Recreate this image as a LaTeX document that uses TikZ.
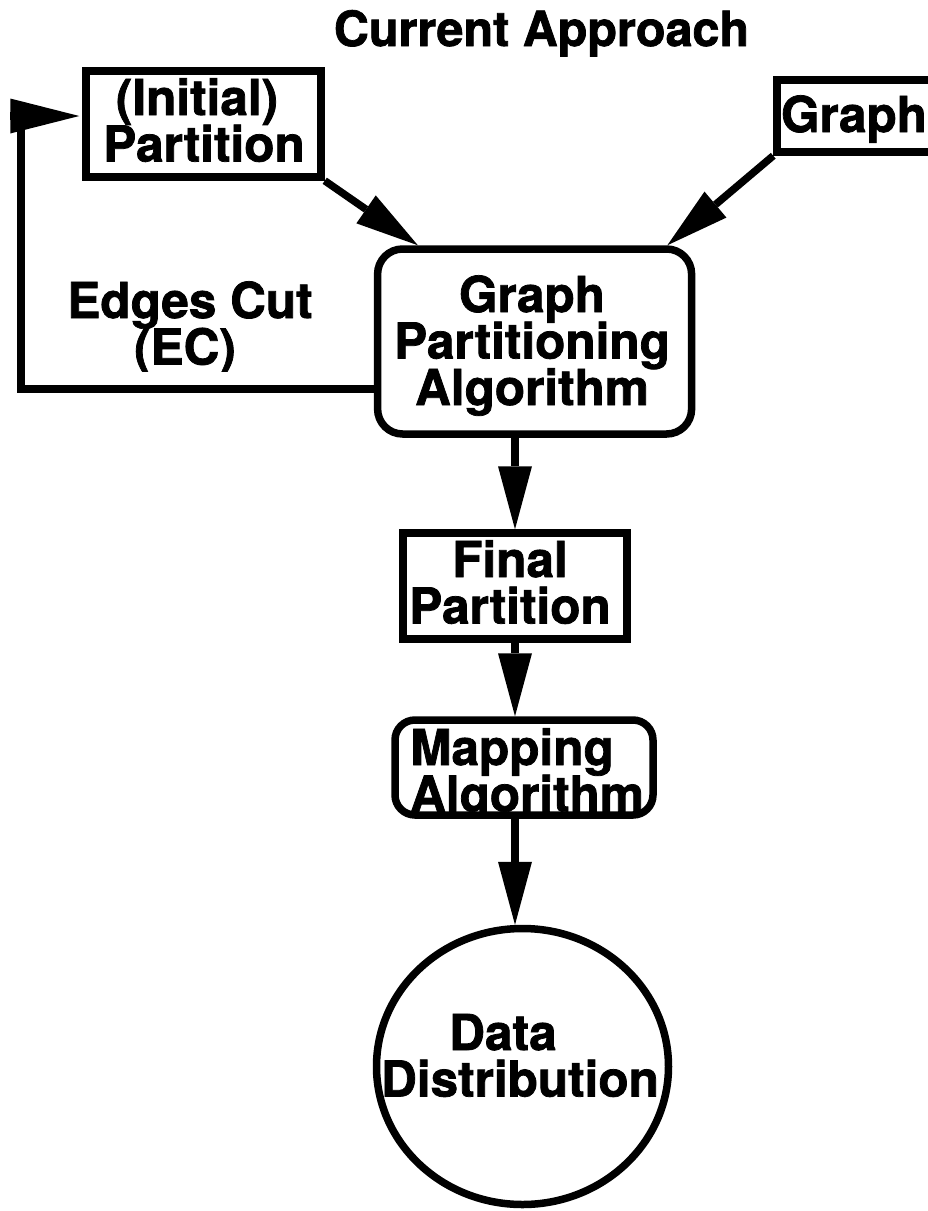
\documentclass[tikz,border=0pt]{standalone}
\usepackage{fontspec}
\setmainfont{TeX Gyre Heros}[BoldFeatures={FakeBold=1.5}]
\usetikzlibrary{arrows.meta,shapes.geometric,calc}

% label font: heavy sans, tight fixed line spacing
\newcommand\diagfont{\fontsize{49.5}{46.5}\selectfont\bfseries\lineskiplimit=-100pt\relax}
\newcommand\headfont{\fontsize{48.5}{46.5}\selectfont\bfseries}
% fixes the height of the first text line
\newcommand\topstrut{\rule{0pt}{40pt}}

\begin{document}
\begin{tikzpicture}[x=1pt,y=-1pt,
  box/.style={draw, line width=7.5pt, inner sep=0pt, rectangle},
  roundbox/.style={box, rounded corners=#1},
  txt/.style={inner sep=0pt, outer sep=0pt, align=center, font=\diagfont},
  wire/.style={line width=7.5pt, -{Triangle[length=63pt,width=34pt,line width=0pt]}}
]
\path[use as bounding box, clip] (0,0) rectangle (928,1211);

% ---- boxes ----
\node[box, minimum width=235pt, minimum height=106pt] (init) at (203.5,124) {};
\node[box, minimum width=183pt, minimum height=72pt] (graph) at (868.5,116) {};
\node[roundbox=25pt, minimum width=314pt, minimum height=185pt] (gpa) at (534.6,341.5) {};
\node[box, minimum width=224pt, minimum height=106pt] (final) at (515,586) {};
\node[roundbox=20pt, minimum width=258pt, minimum height=95pt] (map) at (524,767.5) {};
\node[box, ellipse, minimum width=292pt, minimum height=276pt] (data) at (522.5,1066.5) {};

% ---- texts ----
\node[inner sep=0pt, anchor=base, font=\headfont] (title) at (541.5,46) {Current Approach};
\node[txt, anchor=north] (initlbl) at (204,75) {\topstrut(Initial)\rule{14pt}{0pt}\\Partition};
\node[txt, anchor=base west] (graphlbl) at (781,132) {Graph};
\node[txt, anchor=north] (gpalbl) at (532,272) {\topstrut Graph\\Partitioning\\Algorithm};
\begin{scope}
  \clip (0,0) rectangle (400,371);
  \node[txt, anchor=north] (eclbl) at (190,278) {\topstrut Edges Cut\\(EC)\rule{10pt}{0pt}};
\end{scope}
\node[txt, anchor=north] (finallbl) at (510,537) {\topstrut Final\\Partition};
\begin{scope}
  \clip (map.north west) rectangle (map.south east);
  \node[txt, anchor=north] (maplbl) at (527,725) {\topstrut Mapping\rule{30pt}{0pt}\\Algorithm};
\end{scope}
\node[txt, anchor=north] (datalbl) at (520,1010) {\topstrut Data\rule{34pt}{0pt}\\Distribution};

% ---- connectors ----
\coordinate (fbc) at (21,116);
\draw[wire] (init.south east) -- ([xshift=44pt]gpa.north west);
\draw[wire] (graph.south west) -- ([xshift=-28pt]gpa.north east);
\draw[wire] (final.north |- gpa.south) -- (final.north);
\draw[wire] (final.south) -- (final.south |- map.north);
\draw[wire] (final.south |- map.south) -- (final.south |- data.north);
\draw[line width=7.5pt, -{Triangle[length=69pt,width=35pt,line width=0pt]}]
  ([yshift=-47.5pt]gpa.west) -| (fbc) -- ($(init.west |- fbc)+(-3pt,0)$);
\end{tikzpicture}
\end{document}
